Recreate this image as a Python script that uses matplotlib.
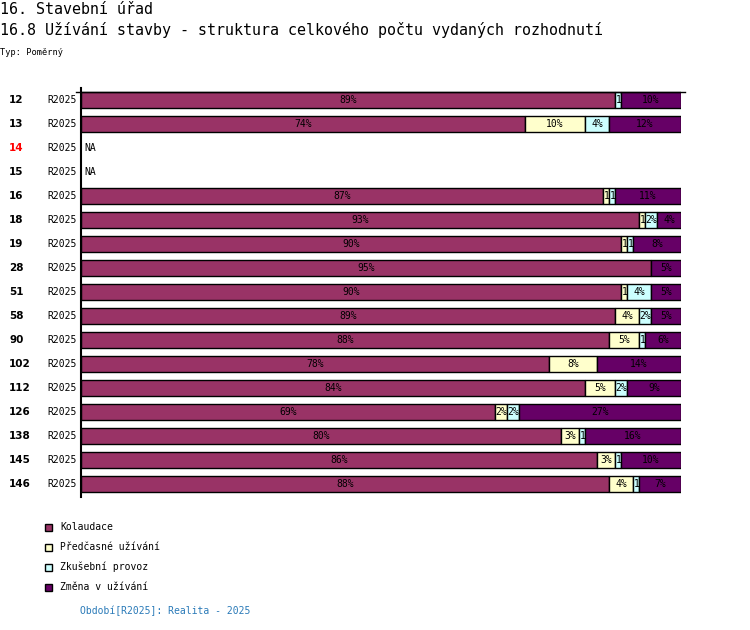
import numpy as np
import matplotlib
matplotlib.use("Agg")
import matplotlib.pyplot as plt
from matplotlib.patches import Rectangle
from matplotlib.transforms import blended_transform_factory

# data (percent shares per office, None = NA)
OFFICES = ['12', '13', '14', '15', '16', '18', '19', '28', '51', '58', '90',
           '102', '112', '126', '138', '145', '146']
PERIOD = 'R2025'
KOLAUDACE = [89, 74, None, None, 87, 93, 90, 95, 90, 89, 88, 78, 84, 69, 80, 86, 88]
PREDCASNE = [0, 10, None, None, 1, 1, 1, 0, 1, 4, 5, 8, 5, 2, 3, 3, 4]
ZKUSEBNI = [1, 4, None, None, 1, 2, 1, 0, 4, 2, 1, 0, 2, 2, 1, 1, 1]
ZMENA = [10, 12, None, None, 11, 4, 8, 5, 5, 5, 6, 14, 9, 27, 16, 10, 7]
SERIES = ['Kolaudace', 'Předčasné užívání', 'Zkušební provoz', 'Změna v užívání']
COLORS = ['#993366', '#ffffcc', '#ccffff', '#660066']
RED_ROWS = ['14']

W, H = 750, 630
MONO = 'DejaVu Sans Mono'
CHAR_PX = 5.8   # width of one label character
UNIT_PX = 6.0   # pixels per percent

fig = plt.figure(figsize=(W / 100, H / 100), dpi=100)
ax = fig.add_axes([81 / W, 1 - 497 / H, 600 / W, (497 - 88) / H])

def fx(px):
    return px / W

def fy(py):
    return 1 - py / H

y = np.arange(len(OFFICES))
data = [KOLAUDACE, PREDCASNE, ZKUSEBNI, ZMENA]
lefts = np.zeros(len(OFFICES))
for vals, col in zip(data, COLORS):
    for i, v in enumerate(vals):
        if v is None or v == 0:
            continue
        bar = ax.barh(y[i], v, left=lefts[i], height=0.67, color=col,
                      edgecolor='black', linewidth=1)[0]
        label = '%d%%' % v
        if len(label) * CHAR_PX <= v * UNIT_PX:
            t = ax.text(lefts[i] + v / 2, y[i], label, ha='center', va='center',
                        family=MONO, fontsize=7, color='black')
        else:
            n = max(1, int(v * UNIT_PX / CHAR_PX))
            t = ax.text(lefts[i] + 0.1, y[i], label[:n], ha='left', va='center',
                        family=MONO, fontsize=7, color='black')
        t.set_clip_path(bar)
        lefts[i] += v

for i, v in enumerate(KOLAUDACE):
    if v is None:
        ax.text(0.6, y[i], 'NA', ha='left', va='center', family=MONO, fontsize=7)

ax.set_xlim(0, 100)
ax.set_ylim(len(OFFICES) - 0.46, -0.5)
for s in ['top', 'right', 'bottom']:
    ax.spines[s].set_visible(False)
ax.spines['left'].set_linewidth(1.5)
ax.set_xticks([])
ax.set_yticks([])
ax.plot([-0.8, 100.7], [-0.335, -0.335], color='black', linewidth=1, clip_on=False)

tr = blended_transform_factory(fig.transFigure, ax.transData)
for i, name in enumerate(OFFICES):
    ax.text(fx(9), y[i], name, transform=tr, ha='left', va='center',
            fontsize=7.5, fontweight='bold',
            color='red' if name in RED_ROWS else 'black')
    ax.text(fx(47), y[i], PERIOD, transform=tr, ha='left', va='center',
            family=MONO, fontsize=7)

fig.text(fx(0), fy(13.5), '16. Stavební úřad', family=MONO, fontsize=10.8, va='baseline')
fig.text(fx(0), fy(35), '16.8 Užívání stavby - struktura celkového počtu vydaných rozhodnutí',
         family=MONO, fontsize=10.8, va='baseline')
fig.text(fx(0), fy(55), 'Typ: Poměrný', family=MONO, fontsize=6.2, va='baseline')

for k, (name, col) in enumerate(zip(SERIES, COLORS)):
    cy = 527 + 20 * k
    fig.add_artist(Rectangle((fx(45), fy(cy + 4)), 7 / W, 7 / H, transform=fig.transFigure,
                             facecolor=col, edgecolor='black', linewidth=1))
    fig.text(fx(60), fy(cy), name, family=MONO, fontsize=7, va='center')

fig.text(fx(80), fy(611), 'Období[R2025]: Realita - 2025', family=MONO, fontsize=7,
         va='center', color='#2a7ab8')

fig.savefig('out.png', dpi=100)
